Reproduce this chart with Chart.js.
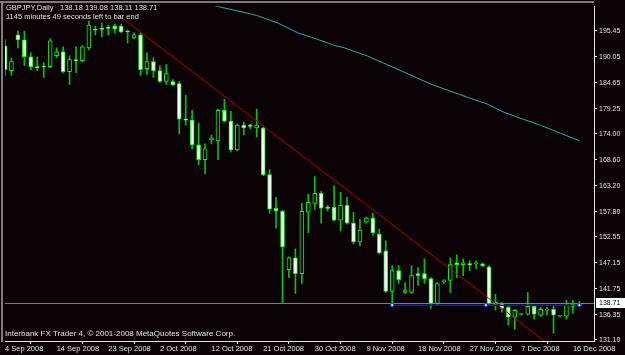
<!DOCTYPE html>
<html>
<head>
<meta charset="utf-8">
<script src="https://cdn.jsdelivr.net/npm/chart.js@4.4.0/dist/chart.umd.min.js"></script>
<style>
  html, body { margin: 0; padding: 0; background: #0a0204; }
  #wrap { width: 625px; height: 355px; }
</style>
</head>
<body>
<div id="wrap"><canvas id="myChart" width="625" height="355"></canvas></div>
<script>
// GBPJPY daily bars, 4 Sep 2008 .. 17 Dec 2008 (one bar per trading day, Sundays included)
const opens = [
  192.36, 187.20, 194.63, 193.59, 190.09, 188.03, 188.03, 188.03, 190.29, 191.12,
  187.00, 189.47, 189.26, 191.94, 195.66, 195.95, 196.07, 196.48, 196.48, 195.45,
  194.01, 194.63, 187.61, 189.06, 187.20, 184.93, 184.93, 184.52, 177.09, 176.89,
  171.73, 168.64, 172.76, 172.56, 178.95, 176.68, 170.70, 175.86, 175.70, 175.24,
  175.24, 165.54, 158.53, 157.91, 145.74, 148.22, 144.92, 157.71, 159.56, 161.63,
  158.60, 158.74, 156.06, 159.15, 155.44, 151.52, 155.64, 156.47, 153.17, 149.66,
  141.21, 145.54, 141.00, 141.00, 144.92, 144.92, 143.89, 138.73, 143.27, 143.48,
  147.19, 146.78, 146.98, 146.98, 146.98, 146.36, 138.53, 138.73, 137.91, 135.85,
  136.40, 136.46, 138.11, 136.26, 137.29, 137.49, 136.05, 136.05, 138.11, 138.18
];
const highs = [
  193.59, 189.88, 195.45, 195.45, 190.91, 190.09, 188.85, 193.80, 191.94, 192.15,
  190.29, 192.15, 192.36, 197.51, 196.48, 197.10, 196.69, 196.89, 196.89, 195.66,
  195.04, 195.04, 190.91, 189.88, 188.23, 188.44, 185.34, 184.93, 182.04, 178.95,
  176.27, 171.94, 173.79, 179.16, 181.22, 178.74, 176.06, 176.48, 176.06, 179.16,
  175.44, 166.58, 160.80, 158.12, 148.42, 150.08, 159.56, 161.42, 165.13, 162.04,
  159.15, 163.28, 161.83, 160.80, 157.71, 156.26, 156.68, 157.50, 154.20, 151.73,
  146.57, 146.57, 143.06, 146.57, 146.16, 147.98, 144.09, 143.06, 143.68, 148.22,
  148.84, 148.01, 147.60, 147.60, 147.19, 146.57, 140.59, 138.94, 138.11, 137.49,
  136.67, 140.99, 138.32, 137.91, 137.91, 138.32, 136.26, 139.35, 139.35, 139.08
];
const lows = [
  186.17, 186.17, 191.94, 188.23, 187.41, 187.20, 185.76, 187.82, 189.88, 186.79,
  184.31, 186.79, 189.06, 191.53, 194.63, 194.21, 194.63, 195.04, 195.04, 192.98,
  193.80, 186.17, 186.38, 185.76, 184.73, 184.31, 184.11, 174.00, 175.86, 170.91,
  167.61, 165.75, 171.94, 168.64, 176.48, 170.29, 170.49, 173.79, 175.03, 173.38,
  165.34, 157.50, 154.41, 138.94, 144.09, 140.79, 142.86, 153.38, 158.33, 155.44,
  157.91, 155.85, 153.79, 155.23, 151.11, 150.69, 155.44, 152.96, 149.04, 141.00,
  138.73, 142.86, 140.79, 140.79, 142.45, 142.86, 137.70, 138.32, 142.86, 141.00,
  144.09, 144.51, 145.54, 145.95, 146.36, 138.32, 137.29, 136.88, 134.19, 133.37,
  136.26, 136.26, 135.43, 136.05, 136.26, 132.54, 135.85, 135.43, 136.67, 138.11
];
const closes = [
  187.41, 189.06, 193.59, 190.09, 188.03, 187.82, 187.95, 193.39, 191.12, 187.00,
  189.47, 189.26, 192.15, 196.69, 195.60, 195.80, 196.00, 195.86, 195.24, 195.24,
  194.63, 187.41, 189.06, 187.20, 184.93, 186.58, 184.20, 177.09, 176.89, 171.73,
  168.64, 170.91, 173.18, 178.95, 176.68, 170.70, 175.86, 175.24, 175.60, 175.86,
  165.54, 158.33, 157.91, 150.49, 148.22, 144.92, 157.91, 159.77, 161.63, 158.53,
  158.50, 156.06, 159.15, 155.44, 151.52, 153.99, 156.47, 153.38, 149.25, 141.21,
  145.54, 143.68, 141.41, 144.51, 144.51, 143.89, 138.73, 142.86, 143.48, 146.78,
  146.78, 147.19, 146.78, 147.19, 146.57, 138.73, 138.94, 137.70, 135.85, 137.29,
  136.50, 138.11, 136.46, 137.49, 137.49, 136.26, 136.15, 138.32, 138.53, 138.71
];

// moving average (bar index, price)
const maBars = [31, 32.3, 38.2, 39.0, 42.3, 45.4, 47.5, 51.1, 52.6, 56.2, 61.4, 66.0, 71.7, 74.7, 77.3, 79.4, 83.0, 89.0];
const maValues = [201.3, 200.75, 198.96, 198.69, 197.10, 195.04, 194.15, 192.42, 191.94, 190.23, 187.14, 184.37, 181.63, 180.25, 178.54, 177.51, 175.80, 172.60];

// red down trend line and blue support line
const trendBars = [17.85, 83.9];
const trendPrices = [198.48, 130.58];
const supportBars = [60, 74.5, 89];
const supportPrice = 138.35;

const dateTickBars = [0, 8, 16, 24, 32, 40, 48, 56, 64, 72, 80, 88];
const dateLabels = ['4 Sep 2008', '14 Sep 2008', '23 Sep 2008', '2 Oct 2008', '12 Oct 2008', '21 Oct 2008',
  '30 Oct 2008', '9 Nov 2008', '18 Nov 2008', '27 Nov 2008', '7 Dec 2008', '16 Dec 2008'];
const priceTicks = [195.45, 190.05, 184.65, 179.25, 174.00, 168.60, 163.20, 157.80, 152.55, 147.15, 141.75, 136.35, 131.10];

const symbolName = 'GBPJPY,Daily';
const timerText = '1145 minutes 49 seconds left to bar end';
const footerText = 'Interbank FX Trader 4, \u00a9 2001-2008 MetaQuotes Software Corp.';

const bgColor = '#0a0204';
const candleGreen = '#00ff00';
const wickGreen = '#00c800';
const textColor = '#e4e4e4';
const fontFamily = '"Liberation Sans", Arial, sans-serif';

const lastBar = closes.length - 1;
const lastClose = closes[lastBar];

const chartDecor = {
  id: 'chartDecor',
  beforeDraw(chart) {
    const ctx = chart.ctx;
    const area = chart.chartArea;
    ctx.save();
    ctx.fillStyle = bgColor;
    ctx.fillRect(0, 0, chart.width, chart.height);
    // grey frame on top and left
    ctx.fillStyle = '#7c7c7c';
    ctx.fillRect(0, 1, area.right, 2);
    ctx.fillRect(1, 1, 2, area.bottom);
    ctx.restore();
  },
  afterDraw(chart) {
    const ctx = chart.ctx;
    const yScale = chart.scales.y;
    const ohlcText = [opens[lastBar], highs[lastBar], lows[lastBar], closes[lastBar]]
      .map(v => v.toFixed(2)).join(' ');
    ctx.save();
    ctx.fillStyle = textColor;
    ctx.textBaseline = 'middle';
    ctx.font = '7.5px ' + fontFamily;
    ctx.fillText(symbolName, 6, 8);
    ctx.fillText(ohlcText, 60, 8);
    ctx.fillText(timerText, 6, 17);
    ctx.font = '8px ' + fontFamily;
    ctx.fillText(footerText, 5, 334);

    // last price box on the price axis
    const py = Math.round(yScale.getPixelForValue(lastClose));
    ctx.fillStyle = '#ffffff';
    ctx.fillRect(yScale.left + 2, py - 5, 30, 10);
    ctx.fillStyle = '#000000';
    ctx.font = '7px ' + fontFamily;
    ctx.fillText(lastClose.toFixed(2), yScale.left + 5, py);
    ctx.restore();
  }
};

const bodyData = opens.map((o, i) => ({ x: i, y: [o, closes[i]] }));
const wickData = lows.map((l, i) => ({ x: i, y: [l, highs[i]] }));
const bodyFill = opens.map((o, i) => (closes[i] >= o ? bgColor : '#ffffff'));

const ctx = document.getElementById('myChart').getContext('2d');
const chart = new Chart(ctx, {
  type: 'bar',
  data: {
    datasets: [{
      type: 'line',
      label: 'MA',
      data: maBars.map((b, i) => ({ x: b, y: maValues[i] })),
      borderColor: '#20b2aa',
      borderWidth: 1,
      pointRadius: 0,
      order: 0
    }, {
      type: 'line',
      label: 'Trend',
      data: trendBars.map((b, i) => ({ x: b, y: trendPrices[i] })),
      borderColor: '#c00000',
      borderWidth: 1,
      pointRadius: 0,
      order: 0
    }, {
      type: 'line',
      label: 'Bid',
      data: [{ x: 0, y: lastClose }, { x: 92, y: lastClose }],
      borderColor: '#778899',
      borderWidth: 1,
      pointRadius: 0,
      order: 1
    }, {
      type: 'line',
      label: 'Support',
      data: supportBars.map(b => ({ x: b, y: supportPrice })),
      borderColor: '#1010d0',
      borderWidth: 1.5,
      pointStyle: 'rect',
      pointRadius: 2,
      pointBorderWidth: 1,
      pointBorderColor: '#2020ff',
      pointBackgroundColor: '#ffffff',
      order: 0
    }, {
      label: 'Body',
      data: bodyData,
      backgroundColor: bodyFill,
      borderColor: candleGreen,
      borderWidth: 1,
      borderSkipped: false,
      barThickness: 4,
      minBarLength: 1,
      grouped: false,
      order: 2
    }, {
      label: 'Wick',
      data: wickData,
      backgroundColor: wickGreen,
      borderWidth: 0,
      barThickness: 1,
      grouped: false,
      order: 3
    }]
  },
  options: {
    responsive: false,
    animation: false,
    devicePixelRatio: 1,
    layout: { padding: { left: 3, top: 3, right: 0, bottom: 0 } },
    plugins: { legend: { display: false }, tooltip: { enabled: false } },
    scales: {
      x: {
        type: 'linear',
        min: 0,
        max: 91.27,
        offset: false,
        grid: { drawOnChartArea: false, drawTicks: true, tickLength: 3, color: textColor },
        border: { display: true, color: textColor },
        afterBuildTicks: s => { s.ticks = dateTickBars.map(v => ({ value: v })); },
        afterFit: s => { s.height = 14; },
        ticks: {
          autoSkip: false,
          maxRotation: 0,
          align: 'start',
          padding: 0,
          color: textColor,
          font: { family: fontFamily, size: 7.5 },
          callback: (v, i) => dateLabels[i]
        }
      },
      y: {
        type: 'linear',
        position: 'right',
        min: 130.89,
        max: 200.61,
        grid: { drawOnChartArea: false, drawTicks: true, tickLength: 3, color: textColor },
        border: { display: true, color: textColor },
        afterBuildTicks: s => { s.ticks = priceTicks.map(v => ({ value: v })); },
        afterFit: s => { s.width = 31; },
        ticks: {
          padding: 2,
          color: textColor,
          font: { family: fontFamily, size: 7 },
          callback: (v, i) => priceTicks[i].toFixed(2)
        }
      }
    }
  },
  plugins: [chartDecor]
});
</script>
</body>
</html>
